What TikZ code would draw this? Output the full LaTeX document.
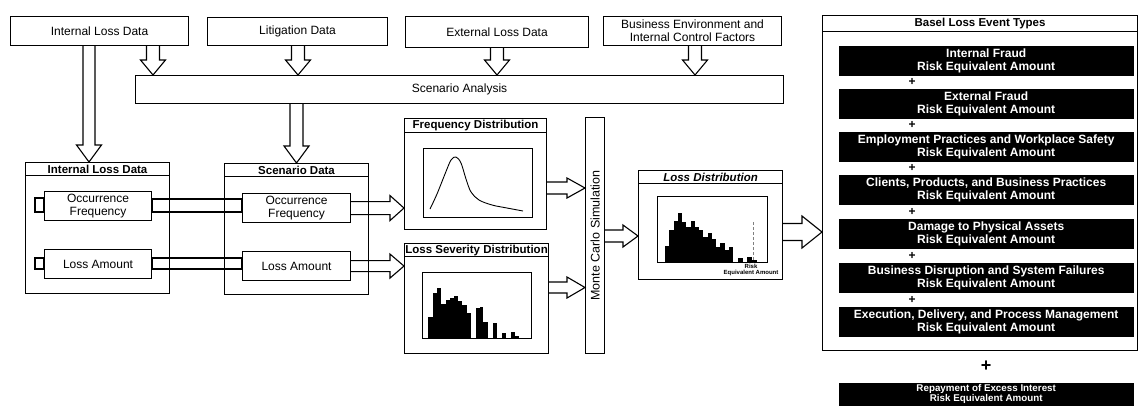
\documentclass[tikz,border=0pt]{standalone}
\usepackage{fontspec}
\setmainfont{Liberation Sans}
\usetikzlibrary{calc}
\tikzset{
  bx/.style={draw, line width=1.1pt, inner sep=0pt, anchor=north west, align=center, font=\fontsize{12}{13}\selectfont},
  ttl/.style={bx, font=\bfseries\fontsize{11.5}{12}\selectfont},
  blk/.style={fill=black, draw=black, text=white, inner sep=0pt, anchor=north west, align=center, font=\bfseries\fontsize{12}{13.5}\selectfont},
  blksmall/.style={blk, font=\bfseries\fontsize{9.8}{10.2}\selectfont},
  barstyle/.style={fill=black},
  blockarrow/.style={draw, line width=1.1pt, line join=miter},
  plus/.style={inner sep=0pt, font=\bfseries\fontsize{12}{12}\selectfont},
}
\newcommand\mybox[7]{\pgfmathsetmacro\bxw{#4-#2}\pgfmathsetmacro\bxh{#5-#3}\node[#6, minimum width=\bxw pt, minimum height=\bxh pt] (#1) at (#2,#3) {#7};}
\newcommand\arrdown[5]{\draw[blockarrow] let \p1=(#1), \p2=(#2) in (\x1+#3,\y1) -- (\x1+#3,\y2+#5) -- (\x1+#4,\y2+#5) -- (\x1,\y2) -- (\x1-#4,\y2+#5) -- (\x1-#3,\y2+#5) -- (\x1-#3,\y1);}
\newcommand\arrright[5]{\draw[blockarrow] let \p1=(#1), \p2=(#2) in (\x1,\y1+#3) -- (\x2-#5,\y1+#3) -- (\x2-#5,\y1+#4) -- (\x2,\y1) -- (\x2-#5,\y1-#4) -- (\x2-#5,\y1-#3) -- (\x1,\y1-#3);}
\begin{document}
\begin{tikzpicture}[x=1pt,y=-1pt]
\useasboundingbox (0,0) rectangle (1139,405);
% top sources
\mybox{ild}{10}{16}{188}{45}{bx}{Internal Loss Data}
\mybox{lit}{207}{17}{387}{45}{bx}{Litigation Data}
\mybox{eld}{405}{16}{588}{47}{bx}{External Loss Data}
\mybox{bec}{603}{16}{781}{45}{bx}{Business Environment and\\Internal Control Factors}
% scenario analysis
\mybox{sa}{135}{75}{783}{103}{bx}{Scenario Analysis}
% internal loss data group
\mybox{ildt}{25}{162}{169}{175}{ttl}{Internal Loss Data}
\mybox{ildm}{25}{175}{169}{293}{bx}{}
\mybox{iof}{44}{191}{151}{220}{bx}{Occurrence\\Frequency}
\mybox{ila}{44}{249}{151}{278}{bx}{Loss Amount}
% scenario data group
\mybox{sdt}{224}{163}{368}{176}{ttl}{Scenario Data}
\mybox{sdm}{224}{176}{368}{294}{bx}{}
\mybox{sof}{242}{193}{350}{222}{bx}{Occurrence\\Frequency}
\mybox{sla}{242}{251}{350}{280}{bx}{Loss Amount}
% frequency distribution
\mybox{fdt}{404}{118}{546}{132}{ttl}{Frequency Distribution}
\mybox{fd}{404}{132}{546}{229}{bx}{}
\mybox{fdp}{423}{148}{532}{217}{bx}{}
% loss severity distribution
\mybox{sdt2}{404}{243}{548}{256}{ttl}{Loss Severity Distribution}
\mybox{sv}{404}{256}{548}{353}{bx}{}
\mybox{svp}{422}{272}{531}{338}{bx}{}
% monte carlo
\mybox{mc}{585}{117}{604}{353}{bx}{}
\node[rotate=90, inner sep=0pt, font=\fontsize{12.5}{13}\selectfont] (mct) at (mc.center) {Monte Carlo Simulation};
% loss distribution
\mybox{ldt}{638}{170}{782}{183}{ttl, font=\bfseries\itshape\fontsize{11.5}{12}\selectfont}{Loss Distribution}
\mybox{ld}{638}{183}{782}{279}{bx}{}
\mybox{ldp}{657}{196}{767}{262}{bx}{}
\node[inner sep=0pt, align=center, font=\bfseries\fontsize{6}{6.5}\selectfont] (rea) at (751,270) {Risk\\Equivalent Amount};
% basel
\mybox{bt}{822}{15}{1137}{31}{ttl}{Basel Loss Event Types}
\mybox{bm}{822}{31}{1137}{350}{bx}{}
\mybox{b1}{839}{46}{1133}{75}{blk}{Internal Fraud\\Risk Equivalent Amount}
\mybox{b2}{839}{89}{1133}{118}{blk}{External Fraud\\Risk Equivalent Amount}
\mybox{b3}{839}{132}{1133}{161}{blk}{Employment Practices and Workplace Safety\\Risk Equivalent Amount}
\mybox{b4}{839}{175}{1133}{204}{blk}{Clients, Products, and Business Practices\\Risk Equivalent Amount}
\mybox{b5}{839}{219}{1133}{248}{blk}{Damage to Physical Assets\\Risk Equivalent Amount}
\mybox{b6}{839}{263}{1133}{292}{blk}{Business Disruption and System Failures\\Risk Equivalent Amount}
\mybox{b7}{839}{307}{1133}{336}{blk}{Execution, Delivery, and Process Management\\Risk Equivalent Amount}
\node[plus] (p1) at (912,82) {+};
\node[plus] (p2) at (912,125) {+};
\node[plus] (p3) at (912,168) {+};
\node[plus] (p4) at (912,211.5) {+};
\node[plus] (p5) at (912,255.5) {+};
\node[plus] (p6) at (912,299.5) {+};
\node[plus, font=\bfseries\fontsize{18}{18}\selectfont] (pbig) at (986,366) {+};
\mybox{rep}{839}{383}{1133}{405}{blksmall}{Repayment of Excess Interest\\Risk Equivalent Amount}
% arrows into scenario analysis
\arrdown{ild.south -| 153,0}{sa.north -| 153,0}{6.5pt}{12.5pt}{15pt}
\arrdown{lit.south -| 298,0}{sa.north -| 298,0}{6.5pt}{12.5pt}{15pt}
\arrdown{eld.south -| 497,0}{sa.north -| 497,0}{6.5pt}{12.5pt}{15pt}
\arrdown{bec.south -| 695,0}{sa.north -| 695,0}{6.5pt}{12.5pt}{15pt}
% long arrows
\arrdown{ild.south -| 89,0}{ildt.north -| 89,0}{6pt}{12.5pt}{17pt}
\arrdown{sa.south -| 296.5,0}{sdt.north -| 296.5,0}{6.5pt}{12.5pt}{17pt}
% bands internal -> scenario
\draw[line width=1.1pt] (iof.east |- 0,199) rectangle (sof.west |- 0,212);
\draw[line width=1.1pt] (ila.east |- 0,258) rectangle (sla.west |- 0,269);
\draw[line width=1.1pt] (iof.west |- 0,198) rectangle (35,212);
\draw[line width=1.1pt] (ila.west |- 0,258) rectangle (35,269);
% scenario -> distributions
\arrright{sof.east}{fd.west |- sof.east}{6.5pt}{12.5pt}{14pt}
\arrright{sla.east}{sv.west |- sla.east}{5.5pt}{12pt}{14pt}
% distributions -> monte carlo
\arrright{fd.east |- 0,188}{mc.west |- 0,188}{6pt}{10pt}{18pt}
\arrright{sv.east |- 0,287.5}{mc.west |- 0,287.5}{5.5pt}{10.5pt}{18pt}
% monte carlo -> loss distribution
\arrright{mc.east |- 0,236}{ld.west |- 0,236}{6pt}{11pt}{15pt}
% loss distribution -> basel
\arrright{ld.east |- 0,232}{bm.west |- 0,232}{8.5pt}{16pt}{20pt}
% frequency curve
\draw[line width=0.9pt] plot[smooth, tension=0.55] coordinates {(430,209) (437,194) (445,174) (451,160) (456,157) (461,163) (466,179) (471,192) (479,200) (492,205) (507,208) (523,211)};
% severity histogram
\foreach \a/\b/\t in {428/432.5/317, 432.5/437/293, 437/441/288, 441/446/304, 446/450/300, 450/454/298, 454/458/296, 458/462/301, 462/467/305, 467/471/313, 476/479.5/308, 479.5/483/307, 483/488/322, 493/497/323, 502/506/333, 511/515/332, 515/519/336}
  \fill[barstyle] (\a,\t) rectangle (\b,338);
% loss distribution histogram
\foreach \t [count=\i from 0] in {246,230,221,213,222,227,221,227,230,237,233,239,247,243,250,247}
  \fill[barstyle] (665+\i*4.25,\t) rectangle (669.25+\i*4.25,262);
\foreach \a/\b/\t in {738/743/258, 747/752/257, 752/757/260}
  \fill[barstyle] (\a,\t) rectangle (\b,262);
\draw[densely dashed, gray, line width=0.7pt] (753,222) -- (753,262);
\end{tikzpicture}
\end{document}
